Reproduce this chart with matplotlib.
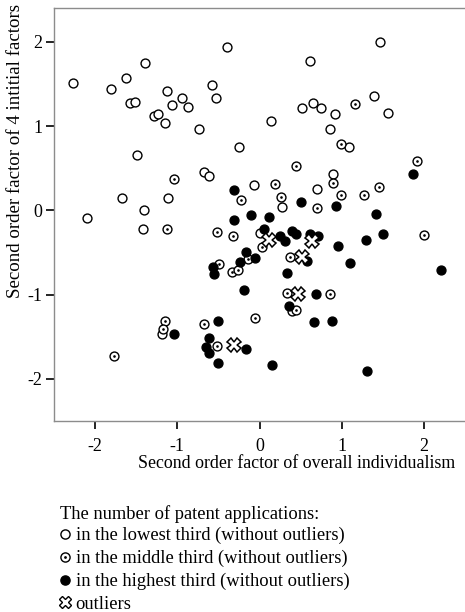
import matplotlib
matplotlib.use("Agg")
import matplotlib.pyplot as plt
from matplotlib.lines import Line2D

plt.rcParams['font.family'] = ['Liberation Serif', 'DejaVu Serif']

# ---- data ----
low_x = [-2.27, -1.81, -1.62, -1.39, -1.57, -1.52, -1.12, -0.94, -1.07, -0.87, -1.28, -1.23,
         -1.15, -0.74, -0.58, -0.53, -0.40, -1.49, -0.68, -0.61, -0.25, -1.67, -1.11, -1.41,
         -2.10, -1.42, 1.47, 0.62, 0.52, 0.65, 0.75, 0.92, 1.39, 1.56, 0.86, 0.14, 1.09,
         -0.07, 0.90, 0.70, 0.27, -1.19, 0.39, 0.01]
low_y = [1.51, 1.44, 1.57, 1.75, 1.27, 1.28, 1.41, 1.33, 1.25, 1.22, 1.12, 1.14,
         1.04, 0.96, 1.49, 1.33, 1.94, 0.66, 0.45, 0.41, 0.75, 0.14, 0.14, 0.00,
         -0.09, -0.22, 2.00, 1.77, 1.21, 1.27, 1.21, 1.14, 1.36, 1.15, 0.96, 1.06, 0.75,
         0.30, 0.43, 0.25, 0.04, -1.47, -1.20, -0.27]

mid_x = [-1.04, 1.16, 0.99, 0.45, 1.91, 0.19, 0.90, -0.22, 0.26, 0.99, 1.27, 1.45, 0.70,
         -1.12, -0.52, -0.32, -0.49, -0.34, -0.26, -1.15, -1.17, -0.68, -0.52, -1.77,
         2.00, 0.03, 0.37, -0.14, 0.34, 0.86, 0.45, -0.06]
mid_y = [0.37, 1.26, 0.79, 0.53, 0.58, 0.31, 0.32, 0.12, 0.16, 0.18, 0.18, 0.28, 0.03,
         -0.22, -0.26, -0.31, -0.64, -0.73, -0.71, -1.31, -1.41, -1.35, -1.61, -1.73,
         -0.29, -0.44, -0.55, -0.58, -0.98, -0.99, -1.18, -1.28]

high_x = [-0.31, 1.87, 0.50, 0.93, 1.42, -0.10, 0.12, -0.31, 0.05, 0.25, 0.31, 0.39, 0.44,
          0.62, 0.71, 1.30, 1.50, 0.95, -0.17, -0.24, -0.05, 0.58, 1.10, 2.21, 0.33, -0.19,
          0.69, 0.36, 0.66, 0.88, -0.56, -0.55, -0.51, -1.04, -0.61, -0.65, -0.61, -0.51,
          -0.16, 0.15, 1.31]
high_y = [0.24, 0.43, 0.10, 0.05, -0.04, -0.05, -0.08, -0.12, -0.22, -0.30, -0.37, -0.24, -0.28,
          -0.28, -0.30, -0.35, -0.28, -0.42, -0.50, -0.61, -0.57, -0.60, -0.62, -0.71, -0.74, -0.94,
          -0.99, -1.14, -1.32, -1.31, -0.67, -0.75, -1.31, -1.47, -1.52, -1.62, -1.69, -1.81,
          -1.64, -1.84, -1.91]

out_x = [0.12, 0.64, 0.52, 0.47, -0.31]
out_y = [-0.35, -0.36, -0.55, -0.99, -1.60]

x_ticks = [-2, -1, 0, 1, 2]
y_ticks = [-2, -1, 0, 1, 2]

xlabel = "Second order factor of overall individualism"
ylabel = "Second order factor of 4 intitial factors"
legend_title = "The number of patent applications:"
legend_labels = ["in the lowest third (without outliers)",
                 "in the middle third (without outliers)",
                 "in the highest third (without outliers)",
                 "outliers"]

# ---- figure ----
W, H = 465, 612
fig = plt.figure(figsize=(W / 100, H / 100), dpi=100)
ax = fig.add_axes([54 / W, 1 - 421 / H, (W - 54) / W, (421 - 8) / H])

ms = 6.4
ax.plot(low_x, low_y, 'o', ls='none', ms=ms, mfc='white', mec='black', mew=1.0, zorder=3)
ax.plot(mid_x, mid_y, 'o', ls='none', ms=ms, mfc='white', mec='black', mew=1.0, zorder=3)
ax.plot(mid_x, mid_y, 'o', ls='none', ms=1.9, mfc='black', mec='black', mew=0, zorder=3.1)
ax.plot(high_x, high_y, 'o', ls='none', ms=ms, mfc='black', mec='black', mew=1.0, zorder=4)
ax.plot(out_x, out_y, 'X', ls='none', ms=9.5, mfc='white', mec='black', mew=1.1, zorder=5)

ax.set_xlim(-2.5, 2.5)
ax.set_ylim(-2.5, 2.4)
ax.set_xticks(x_ticks)
ax.set_yticks(y_ticks)
ax.set_xticklabels([str(v) for v in x_ticks])
ax.set_yticklabels([str(v) for v in y_ticks])
ax.tick_params(direction='out', length=5.5, width=1.2, colors='black', labelsize=13, pad=3)
ax.tick_params(axis='x', pad=7)
for s in ax.spines.values():
    s.set_color('#8c8c8c')
    s.set_linewidth(1.0)
ax.spines['right'].set_visible(False)

fig.text(455 / W, 1 - 463 / H, xlabel, ha='right', va='center', fontsize=12.9)
fig.text(16 / W, 1 - 151 / H, ylabel, ha='center', va='center', rotation=90, fontsize=13.6)

# legend
lms = 6.6
h_low = Line2D([], [], marker='o', ls='none', ms=lms, mfc='white', mec='black', mew=1.0)
h_mid_ring = Line2D([], [], marker='o', ls='none', ms=lms, mfc='white', mec='black', mew=1.0)
h_mid_dot = Line2D([], [], marker='o', ls='none', ms=2.0, mfc='black', mec='black', mew=0)
h_high = Line2D([], [], marker='o', ls='none', ms=lms, mfc='black', mec='black', mew=1.0)
h_out = Line2D([], [], marker='X', ls='none', ms=8.5, mfc='white', mec='black', mew=1.0)
leg = fig.legend([h_low, (h_mid_ring, h_mid_dot), h_high, h_out], legend_labels,
                 loc='upper left', bbox_to_anchor=(60 / W, 1 - 505 / H),
                 frameon=False, title=legend_title, alignment='left',
                 fontsize=13.3, title_fontsize=13.3, handlelength=0.55, handletextpad=0.3,
                 labelspacing=0.3, borderpad=0, borderaxespad=0)
leg._legend_box.sep = 3

fig.savefig("out.png", dpi=100)
